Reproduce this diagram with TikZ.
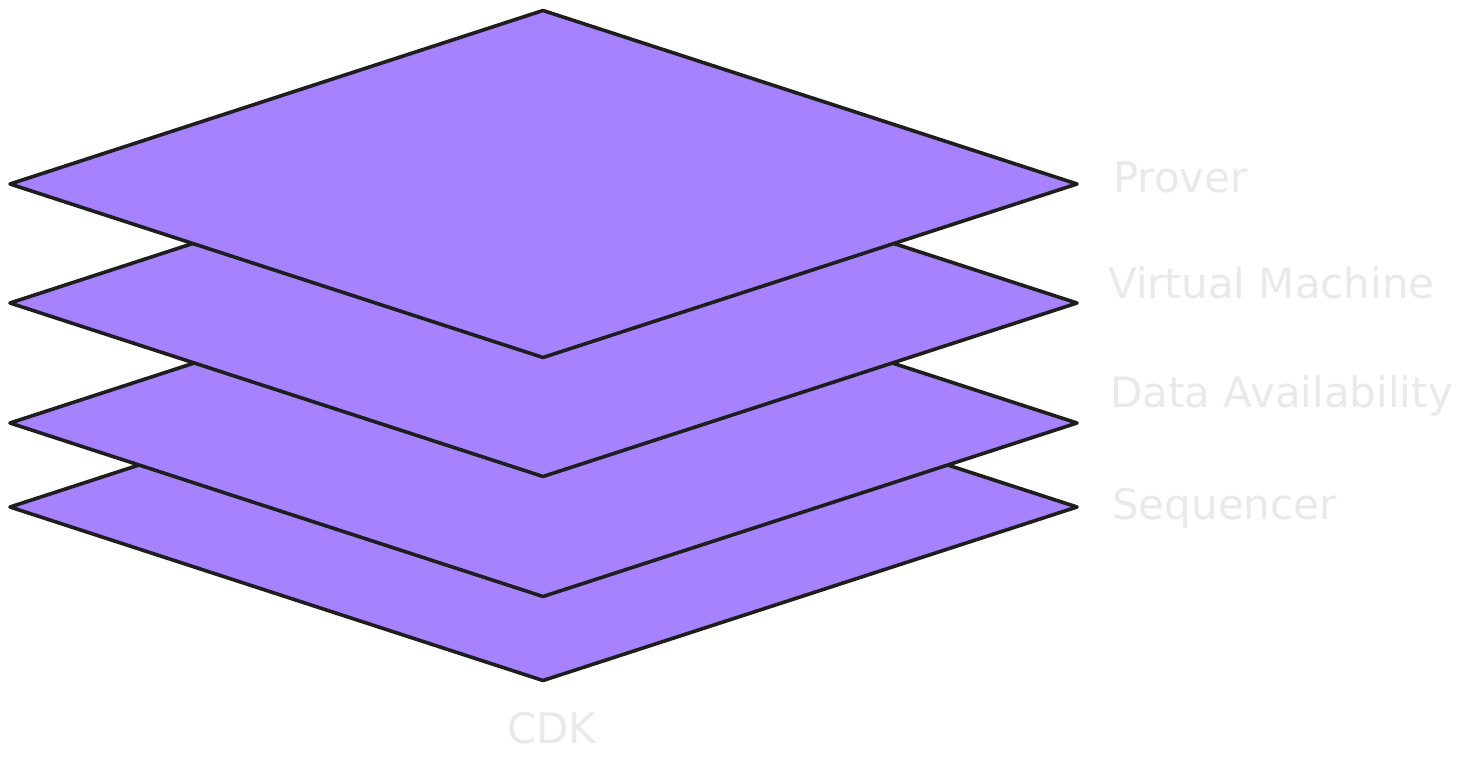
\documentclass[tikz,border=0pt]{standalone}
\usepackage{fontspec}
\setmainfont{DejaVu Sans}
\definecolor{layerfill}{HTML}{A682FF}
\definecolor{layerline}{HTML}{1E1E1E}
\definecolor{labelgray}{HTML}{E9E9E9}
\tikzset{
  layer/.style={fill=layerfill, draw=layerline, line width=3.6pt, line join=round},
  layerlabel/.style={text=labelgray, font=\fontsize{42}{48}\selectfont,
    inner sep=0pt, anchor=base west}
}
\begin{document}
\begin{tikzpicture}[x=1pt, y=-1pt]
        \useasboundingbox (0,0) rectangle (1462,768);
        % layers, bottom one first
        \foreach \ymid in {507, 423, 303, 184} {
          \draw[layer] (10,\ymid) -- (543,\ymid-173.5) -- (1077,\ymid)
          -- (543,\ymid+173.5) -- cycle;
        }
        \node[layerlabel] (prover) at (1113,192) {Prover};
        \node[layerlabel] (vm) at (1108,298) {Virtual Machine};
        \node[layerlabel] (da) at (1110,407) {Data Availability};
        \node[layerlabel] (seq) at (1112,519) {Sequencer};
        \node[layerlabel] (cdk) at (507,743) {CDK};
      \end{tikzpicture}
\end{document}
